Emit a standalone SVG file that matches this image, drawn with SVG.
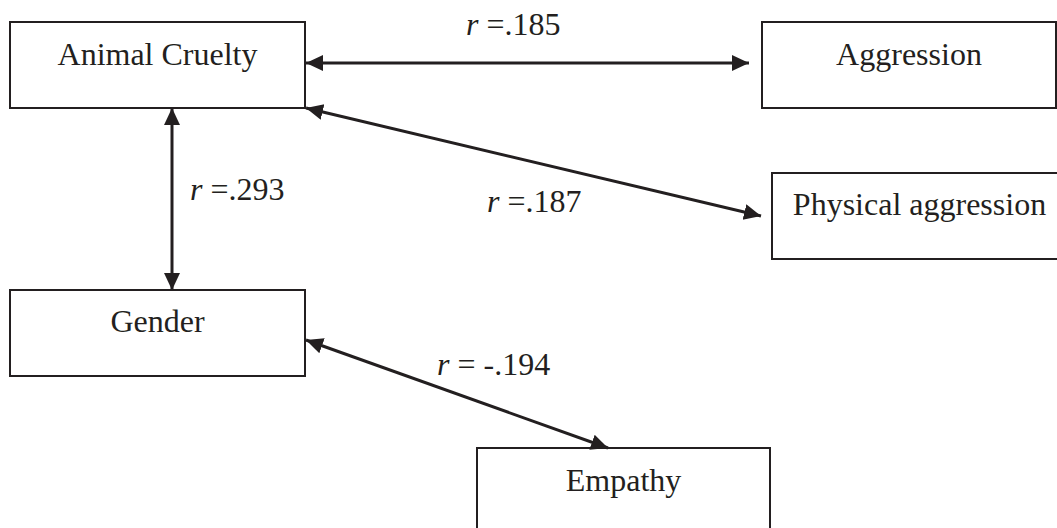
<svg xmlns="http://www.w3.org/2000/svg" width="1057" height="528" viewBox="0 0 1057 528">
  <style>
    .box { fill: #ffffff; stroke: #231f20; stroke-width: 2; }
    .lbl { font-family: "Liberation Serif", "Times New Roman", serif; font-size: 32px; fill: #231f20; }
    .node-text { text-anchor: middle; }
    .conn { fill: none; stroke: #231f20; stroke-width: 3; marker-start: url(#arrow); marker-end: url(#arrow); }
    .it { font-style: italic; }
  </style>
  <defs>
    <marker id="arrow" markerUnits="userSpaceOnUse" markerWidth="18" markerHeight="17" refX="17" refY="8" orient="auto-start-reverse">
      <path d="M0,0 L17,8 L0,16 z" fill="#231f20"/>
    </marker>
  </defs>
  <rect width="1057" height="528" fill="#ffffff"/>

  <g id="node-animal-cruelty">
    <rect class="box" x="10" y="22" width="295" height="86"/>
    <text class="lbl node-text" x="157.5" y="65">Animal Cruelty</text>
  </g>
  <g id="node-aggression">
    <rect class="box" x="762" y="22" width="294" height="86"/>
    <text class="lbl node-text" x="909" y="65">Aggression</text>
  </g>
  <g id="node-physical-aggression">
    <rect class="box" x="772" y="173" width="295" height="86"/>
    <text class="lbl node-text" x="919.5" y="215">Physical aggression</text>
  </g>
  <g id="node-gender">
    <rect class="box" x="10" y="290" width="295" height="86"/>
    <text class="lbl node-text" x="157.5" y="332">Gender</text>
  </g>
  <g id="node-empathy">
    <rect class="box" x="477" y="448" width="293" height="86"/>
    <text class="lbl node-text" x="623.5" y="491">Empathy</text>
  </g>

  <g id="connectors">
    <line class="conn" x1="306" y1="63" x2="749" y2="63"/>
    <line class="conn" x1="306" y1="108" x2="761" y2="216"/>
    <line class="conn" x1="172" y1="108" x2="172" y2="290"/>
    <line class="conn" x1="306" y1="340" x2="608" y2="448"/>
    <text class="lbl" x="466" y="35"><tspan class="it">r</tspan> =.185</text>
    <text class="lbl" x="487" y="212"><tspan class="it">r</tspan> =.187</text>
    <text class="lbl" x="190" y="200"><tspan class="it">r</tspan> =.293</text>
    <text class="lbl" x="437" y="375"><tspan class="it">r</tspan> = -.194</text>
  </g>
</svg>
